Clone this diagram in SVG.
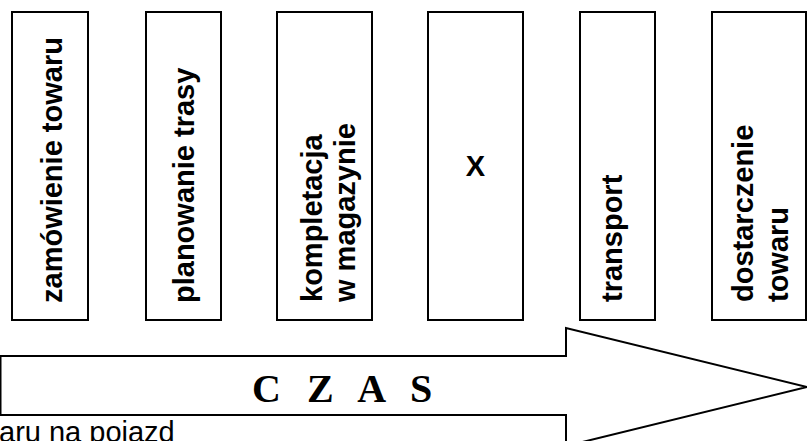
<svg xmlns="http://www.w3.org/2000/svg" width="807" height="441" viewBox="0 0 807 441">
<style>
.box{fill:#fff;stroke:#000;stroke-width:2}
.lbl{font-family:"Liberation Sans",Arial,sans-serif;font-weight:bold;font-size:29px;fill:#000}
.czas{font-family:"Liberation Serif","Times New Roman",serif;font-weight:bold;font-size:40px;fill:#000}
.note{font-family:"Liberation Sans",Arial,sans-serif;font-size:29px;fill:#000}
</style>
<rect width="807" height="441" fill="#fff"/>
<g id="connectors">
<path id="czas-arrow" d="M0.5,356 L566,356 L566,328 L807,387 L566,446 L566,415 L0.5,415 Z" fill="#fff" stroke="#000" stroke-width="2"/>
<text class="czas" x="252" y="402" word-spacing="16">C Z A S</text>
</g>
<g id="n1"><rect class="box" x="12" y="12" width="76" height="308"/>
<text class="lbl" transform="translate(62,303) rotate(-90)">zamówienie towaru</text></g>
<g id="n2"><rect class="box" x="146" y="12" width="75" height="308"/>
<text class="lbl" transform="translate(194,303) rotate(-90)">planowanie trasy</text></g>
<g id="n3"><rect class="box" x="277" y="12" width="95" height="308"/>
<text class="lbl" transform="translate(322,302) rotate(-90)">kompletacja</text>
<text class="lbl" transform="translate(355,302) rotate(-90)">w magazynie</text></g>
<g id="n4"><rect class="box" x="428" y="12" width="95" height="308"/>
<text class="lbl" x="475.5" y="176" text-anchor="middle" font-size="30">X</text></g>
<g id="n5"><rect class="box" x="580" y="12" width="75" height="308"/>
<text class="lbl" transform="translate(622,302) rotate(-90)">transport</text></g>
<g id="n6"><rect class="box" x="712" y="12" width="94" height="308"/>
<text class="lbl" transform="translate(753,302) rotate(-90)">dostarczenie</text>
<text class="lbl" transform="translate(788,302) rotate(-90)">towaru</text></g>
<text class="note" x="-1" y="442">aru na pojazd</text>
</svg>
